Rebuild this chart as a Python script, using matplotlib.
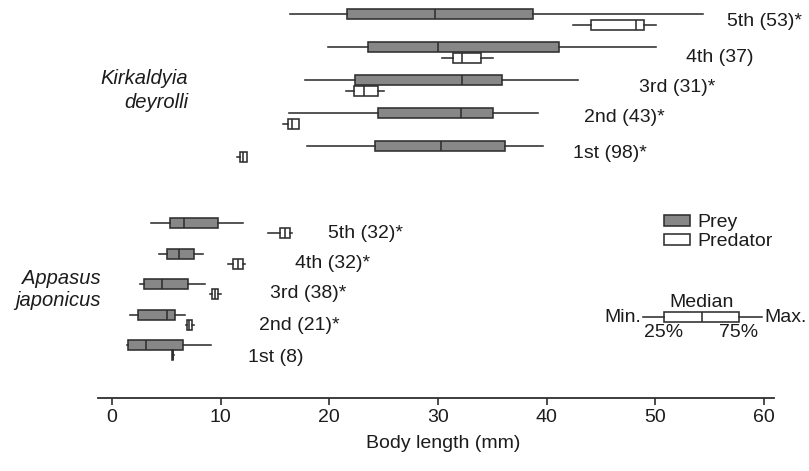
import matplotlib
matplotlib.use("Agg")
import matplotlib.pyplot as plt
from matplotlib.patches import Patch

plt.rcParams['font.family'] = ['Liberation Sans', 'DejaVu Sans']

# ---- data: [min, 25%, median, 75%, max] in mm, stages 1st..5th ----
stages = ["1st", "2nd", "3rd", "4th", "5th"]
kd_n = ["(98)*", "(43)*", "(31)*", "(37)", "(53)*"]
aj_n = ["(8)", "(21)*", "(38)*", "(32)*", "(32)*"]

kd_prey = [[17.9, 24.2, 30.3, 36.2, 39.7],
           [16.3, 24.5, 32.1, 35.1, 39.2],
           [17.8, 22.4, 32.2, 35.9, 42.9],
           [19.9, 23.6, 30.0, 41.1, 50.1],
           [16.4, 21.6, 29.7, 38.7, 54.4]]
kd_pred = [[11.5, 11.8, 12.1, 12.4, 12.4],
           [15.7, 16.2, 16.6, 17.2, 17.2],
           [21.5, 22.3, 23.2, 24.5, 25.0],
           [30.4, 31.4, 32.2, 34.0, 35.1],
           [42.4, 44.1, 48.2, 49.0, 50.1]]
aj_prey = [[1.4, 1.5, 3.1, 6.5, 9.1],
           [1.7, 2.4, 5.1, 5.8, 6.7],
           [2.6, 2.9, 4.6, 7.0, 8.6],
           [4.3, 5.1, 6.2, 7.5, 8.4],
           [3.6, 5.3, 6.6, 9.8, 12.1]]
aj_pred = [[5.5, 5.55, 5.6, 5.65, 5.7],
           [6.8, 6.9, 7.1, 7.4, 7.5],
           [9.0, 9.2, 9.5, 9.8, 10.0],
           [10.7, 11.1, 11.6, 12.1, 12.2],
           [14.4, 15.5, 15.9, 16.4, 16.6]]
scheme = [48.9, 50.8, 54.3, 57.7, 59.8]

xticks = [0, 10, 20, 30, 40, 50, 60]

# ---- layout ----
W, H = 809, 471
PX = 652 / 60.0  # pixels per mm
fig = plt.figure(figsize=(W / 100, H / 100), dpi=100)
ax = fig.add_axes([0, 0, 1, 1])
ax.set_xlim(-112 / PX, (W - 112) / PX)
ax.set_ylim(H, 0)

PREY_C = '#878787'
EDGE = '#2e2e2e'
TXT = '#1c1c1c'
LW = 1.15


def stats(rows):
    return [dict(whislo=r[0], q1=r[1], med=r[2], q3=r[3], whishi=r[4]) for r in rows]


def draw(rows, pos, face):
    ax.bxp(stats(rows), positions=pos, widths=10, orientation='horizontal',
           patch_artist=True, showcaps=False, showfliers=False, manage_ticks=False,
           boxprops=dict(facecolor=face, edgecolor=EDGE, linewidth=LW),
           whiskerprops=dict(color=EDGE, linewidth=LW),
           medianprops=dict(color=EDGE, linewidth=LW))


kd_y = [146 - 33 * i for i in range(5)]
aj_y = [345 - 30.5 * i for i in range(5)]

draw(kd_prey, kd_y, PREY_C)
draw(kd_pred, [y + 10.5 for y in kd_y], 'white')
draw(aj_prey, aj_y, PREY_C)
draw(aj_pred, [y + 10 for y in aj_y], 'white')

FS = 14
kd_lab_x = [42.4, 43.4, 48.5, 52.8, 56.6]
kd_lab_y = [153, 118, 87, 58, 21]
aj_lab_x = [12.5, 13.5, 14.5, 16.8, 19.9]
aj_lab_y = [357, 325, 294, 263, 233]
for i in range(5):
    ax.text(kd_lab_x[i], kd_lab_y[i], f"{stages[i]} {kd_n[i]}", fontsize=FS,
            va='center', ha='left', color=TXT)
    ax.text(aj_lab_x[i], aj_lab_y[i], f"{stages[i]} {aj_n[i]}", fontsize=FS,
            va='center', ha='left', color=TXT)

ax.text((188 - 112) / PX, 78, "Kirkaldyia", style='italic', fontsize=FS + 0.5,
        ha='right', va='center', color=TXT)
ax.text((188 - 112) / PX, 103, "deyrolli", style='italic', fontsize=FS + 0.5,
        ha='right', va='center', color=TXT)
ax.text((101 - 112) / PX, 278, "Appasus", style='italic', fontsize=FS + 0.5,
        ha='right', va='center', color=TXT)
ax.text((101 - 112) / PX, 301, "japonicus", style='italic', fontsize=FS + 0.5,
        ha='right', va='center', color=TXT)

# legend
handles = [Patch(facecolor=PREY_C, edgecolor=EDGE, linewidth=LW, label='Prey'),
           Patch(facecolor='white', edgecolor=EDGE, linewidth=LW, label='Predator')]
leg = ax.legend(handles=handles, loc='upper left', bbox_to_anchor=(664 / W, 1 - 214 / H),
                frameon=False, fontsize=FS, handlelength=1.35, handleheight=0.5,
                handletextpad=0.35, labelspacing=0.12, borderpad=0, borderaxespad=0)
for t in leg.get_texts():
    t.set_color(TXT)

# schematic box
draw([scheme], [317], 'white')
ax.text(scheme[0] - 0.2, 318, "Min.", fontsize=FS, ha='right', va='center', color=TXT)
ax.text(scheme[4] + 0.2, 318, "Max.", fontsize=FS, ha='left', va='center', color=TXT)
ax.text(scheme[2], 311, "Median", fontsize=FS, ha='center', va='bottom', color=TXT)
ax.text(scheme[1], 324, "25%", fontsize=FS, ha='center', va='top', color=TXT)
ax.text(scheme[3], 324, "75%", fontsize=FS, ha='center', va='top', color=TXT)

# axis
for s in ['top', 'left', 'right']:
    ax.spines[s].set_visible(False)
ax.spines['bottom'].set_position(('data', 398))
ax.spines['bottom'].set_bounds(-1.25, 60.9)
ax.spines['bottom'].set_linewidth(1.3)
ax.spines['bottom'].set_color(EDGE)
ax.set_yticks([])
ax.set_xticks(xticks)
ax.tick_params(axis='x', direction='out', length=5, width=1.2, color=EDGE,
               labelsize=FS, pad=3, labelcolor=TXT)
ax.text(30.5, 443, "Body length (mm)", fontsize=FS, ha='center', va='center', color=TXT)

fig.savefig("out.png", dpi=100)
